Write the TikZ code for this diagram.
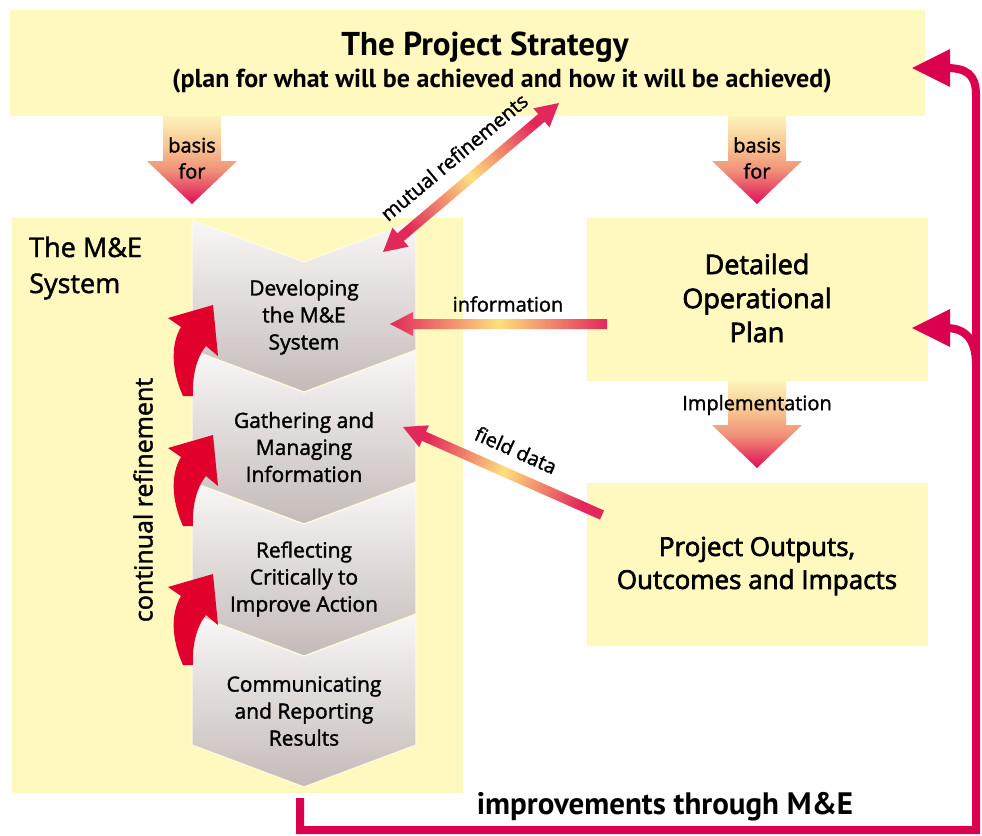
\documentclass[tikz,border=0pt]{standalone}
\usepackage{fontspec}
\setmainfont{Open Sans}
\newfontfamily\medfont{Open Sans}[FakeBold=1.6]
\newfontfamily\semifont{Open Sans}[FakeBold=2.6]
\newfontfamily\ptsans{PT Sans}
\usetikzlibrary{calc}
\definecolor{boxy}{HTML}{FFF9C0}
\definecolor{crim}{HTML}{DC0050}
\definecolor{cred}{HTML}{E0002B}
\definecolor{ayel}{HTML}{FDE07C}
\definecolor{ared}{HTML}{E2285A}
\definecolor{apale}{HTML}{FDF3BA}
\definecolor{apeach}{HTML}{F7C592}
\definecolor{asalm}{HTML}{F09078}
\definecolor{atip}{HTML}{E00C58}
\definecolor{chtop}{HTML}{F9F7F7}
\definecolor{chbot}{HTML}{C4BBB8}
\pgfdeclareverticalshading{basisshade}{100bp}{color(0bp)=(atip); color(25bp)=(atip);
  color(44bp)=(asalm); color(58bp)=(apeach); color(75bp)=(apale); color(100bp)=(apale)}
\pgfdeclarehorizontalshading{connshade}{100bp}{color(0bp)=(ared); color(25bp)=(ared);
  color(50bp)=(ayel); color(75bp)=(ared); color(100bp)=(ared)}
\newcommand{\gradarrow}[6]{% tail, tip, shaft half, head half, head length, shading angle
  \coordinate (ht) at ($(#2)!#5!(#1)$);
  \shade[shading=connshade, shading angle=#6]
    (#2) -- ($(ht)!#4!90:(#1)$) -- ($(ht)!#3!90:(#1)$) -- ($(#1)!#3!-90:(#2)$)
    -- ($(#1)!#3!90:(#2)$) -- ($(ht)!#3!-90:(#1)$) -- ($(ht)!#4!-90:(#1)$) -- cycle;}
\newcommand{\dblgradarrow}[6]{% a, b, shaft half, head half, head length, shading angle
  \coordinate (ha) at ($(#1)!#5!(#2)$);
  \coordinate (hb) at ($(#2)!#5!(#1)$);
  \shade[shading=connshade, shading angle=#6]
    (#1) -- ($(ha)!#4!90:(#2)$) -- ($(ha)!#3!90:(#2)$) -- ($(hb)!#3!-90:(#1)$)
    -- ($(hb)!#4!-90:(#1)$) -- (#2) -- ($(hb)!#4!90:(#1)$) -- ($(hb)!#3!90:(#1)$)
    -- ($(ha)!#3!-90:(#2)$) -- ($(ha)!#4!-90:(#2)$) -- cycle;}
\newcommand{\chevron}[2]{%
  \shade[top color=chtop, bottom color=chbot, draw=boxy!50!white, line width=1.2pt]
    (192,#1) -- (304,#1+42) -- (416,#1) -- (416,#2) -- (304,#2+42) -- (192,#2) -- cycle;}
\newcommand{\basisarrow}[4]{% centre x, top y, head top y, tip y
  \shade[shading=basisshade]
    (#1-29,#2) -- (#1+29,#2) -- (#1+29,#3) -- (#1+45,#3) -- (#1,#4)
    -- (#1-45,#3) -- (#1-29,#3) -- cycle;}
\newcommand{\curlarrow}[1]{%
  \fill[cred, shift={(0,#1)}] (213,305) -- (218,356) -- (206,346)
    .. controls (196,358) and (192,378) .. (193,396) -- (183,396)
    .. controls (172,372) and (170,345) .. (181,327) -- (168,318) -- cycle;}
\begin{document}
\begin{tikzpicture}[x=1pt,y=-1pt,
  box/.style={fill=boxy, draw=none, inner sep=0pt},
  lbl/.style={font=\medfont\fontsize{20}{26}\selectfont, inner sep=0pt, align=center},
  chtext/.style={font=\medfont\fontsize{21}{27}\selectfont, inner sep=0pt, align=center},
  bigtext/.style={font=\semifont\fontsize{27}{34}\selectfont, inner sep=0pt, align=center},
  loopline/.style={draw=crim, line width=8pt}]
\useasboundingbox (0,0) rectangle (982,835);
% boxes
\node[box, minimum width=915pt, minimum height=106pt] (ps) at (467.5,63) {};
\node[box, minimum width=451pt, minimum height=575pt] (me) at (237.5,505.5) {};
\node[box, minimum width=341pt, minimum height=163pt] (dop) at (757.5,299.5) {};
\node[box, minimum width=341pt, minimum height=163pt] (poi) at (757.5,564.5) {};
% box texts
\node[inner sep=0pt, font=\ptsans\bfseries\fontsize{33}{36}\selectfont] (title) at (485,47) {The Project Strategy};
\node[inner sep=0pt, font=\ptsans\bfseries\fontsize{26}{30}\selectfont] (subtitle) at (502,81) {(plan for what will be achieved and how it will be achieved)};
\node[inner sep=0pt, align=left, anchor=west, font=\medfont\fontsize{27}{36}\selectfont] (metitle) at (29,268) {The M\&E\\System};
\node[bigtext] (doptext) at (757,298) {Detailed\\Operational\\Plan};
\node[bigtext, font=\semifont\fontsize{26}{33}\selectfont] (poitext) at (757,566) {Project Outputs,\\Outcomes and Impacts};
% basis and implementation arrows
\basisarrow{192}{116}{161}{204}
\basisarrow{757}{116}{161}{204}
\basisarrow{757}{381}{425}{468}
\node[lbl] (b1) at (192,158) {basis\\for};
\node[lbl] (b2) at (757,158) {basis\\for};
\node[lbl] (impl) at (757,405) {Implementation};
% chevrons
\chevron{614}{745}
\chevron{482}{614}
\chevron{350}{482}
\chevron{220}{350}
\node[chtext] (c1) at (304,317) {Developing\\the M\&E\\System};
\node[chtext] (c2) at (304,447) {Gathering and\\Managing\\Information};
\node[chtext] (c3) at (304,579) {Reflecting\\Critically to\\Improve Action};
\node[chtext] (c4) at (304,711) {Communicating\\and Reporting\\Results};
% continual refinement arrows
\curlarrow{0}
\curlarrow{130}
\curlarrow{269}
\node[lbl, font=\medfont\fontsize{25}{30}\selectfont, rotate=90] (cont) at (143,500) {continual refinement};
% gradient connectors
\coordinate (mA) at (383,252);
\coordinate (mB) at (559,103);
\dblgradarrow{mA}{mB}{5pt}{12.5pt}{23pt}{40}
\node[lbl, rotate=40] (mut) at (454,157) {mutual refinements};
\coordinate (infoS) at (607,324);
\coordinate (infoT) at (390,324);
\gradarrow{infoS}{infoT}{5pt}{12pt}{23pt}{0}
\node[lbl] (info) at (508,304) {information};
\coordinate (fdS) at (602,515);
\coordinate (fdT) at (403,427);
\gradarrow{fdS}{fdT}{5pt}{12pt}{23pt}{-24}
\node[lbl, rotate=-24] (fd) at (516,450) {field data};
% improvement loop
\coordinate (loopS) at (300,798);
\coordinate (loopC1) at (300,830);
\coordinate (loopC2) at (976,830);
\coordinate (h1) at (912,68);
\coordinate (h2) at (912,328);
\draw[loopline, line join=miter] (loopS) -- (loopC1) -- (loopC2) -- (976,95)
  .. controls (976,74) and (966,68) .. (946,68);
\draw[loopline] (976,365) .. controls (976,340) and (966,328) .. (946,328);
\fill[crim] (h1) -- ++(38,-19) -- ++(0,38) -- cycle;
\fill[crim] (h2) -- ++(38,-19) -- ++(0,38) -- cycle;
\node[inner sep=0pt, font=\ptsans\bfseries\fontsize{31}{36}\selectfont] (impr) at (665,807) {improvements through M\&E};
\end{tikzpicture}
\end{document}
